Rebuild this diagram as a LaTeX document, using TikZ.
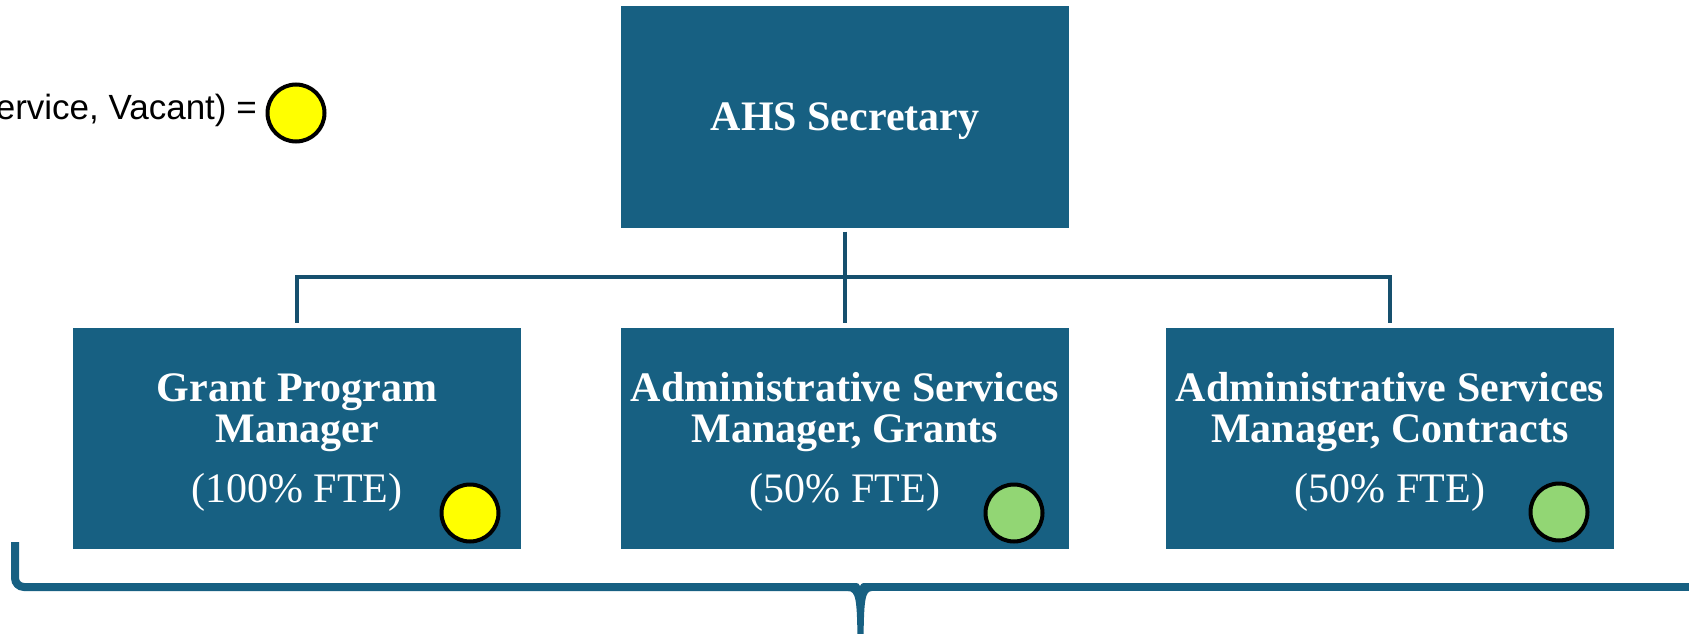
\documentclass[tikz,border=0pt]{standalone}
\usepackage{fontspec}
\setmainfont{Liberation Serif}
\newfontfamily\legendfont{Liberation Sans}
\definecolor{boxblue}{RGB}{23,96,130}
\definecolor{linkblue}{RGB}{22,80,110}
\definecolor{vacant}{RGB}{255,255,0}
\definecolor{filled}{RGB}{146,214,116}
\begin{document}
\begin{tikzpicture}[x=1pt,y=-1pt,
  orgbox/.style={rectangle, fill=boxblue, draw=none, minimum width=448pt, minimum height=221pt, inner sep=0pt},
  titletext/.style={anchor=base, text=white, inner sep=0pt, font=\fontsize{42}{41}\selectfont\bfseries},
  ftetext/.style={anchor=base, text=white, inner sep=0pt, font=\fontsize{42}{41}\selectfont},
  statusdot/.style={circle, draw=black, line width=4pt, minimum size=57pt, inner sep=0pt},
  conn/.style={draw=linkblue, line width=3.5pt},
  bracestroke/.style={draw=boxblue, line width=8pt}
]
\useasboundingbox (0,0) rectangle (1689,634);

% legend
\node[anchor=base east, inner sep=0pt, font=\legendfont\fontsize{35}{35}\selectfont] (legendtext) at (257,119) {ervice, Vacant) =};
\node[statusdot, fill=vacant] (legenddot) at (296,113) {};

% boxes
\node[orgbox] (top) at (845,117) {};
\node[titletext] (toptitle) at (845,130) {AHS Secretary};

\node[orgbox] (c1) at (297,438.5) {};
\node[orgbox] (c2) at (845,438.5) {};
\node[orgbox] (c3) at (1390,438.5) {};

\node[titletext] (c1a) at (297,401) {Grant Program};
\node[titletext] (c1b) at (297,442) {Manager};
\node[ftetext]   (c1c) at (297,502) {(100\% FTE)};

\node[titletext] (c2a) at (845,401) {Administrative Services};
\node[titletext] (c2b) at (845,442) {Manager, Grants};
\node[ftetext]   (c2c) at (845,502) {(50\% FTE)};

\node[titletext] (c3a) at (1390,401) {Administrative Services};
\node[titletext] (c3b) at (1390,442) {Manager, Contracts};
\node[ftetext]   (c3c) at (1390,502) {(50\% FTE)};

% status markers
\node[statusdot, fill=vacant] (d1) at (470,513) {};
\node[statusdot, fill=filled] (d2) at (1014,513) {};
\node[statusdot, fill=filled] (d3) at (1559,512) {};

% reporting lines
\coordinate (bus) at (845,277);
\draw[conn] ([yshift=-4pt]top.south) -- (bus);
\draw[conn] (bus) -| ([yshift=5pt]c1.north);
\draw[conn] (bus) -- ([yshift=5pt]c2.north);
\draw[conn] (bus) -| ([yshift=5pt]c3.north);

% grouping brace
\coordinate (braceleft) at (15,542);
\coordinate (braceright) at (1700,587);
\draw[bracestroke, rounded corners=9pt] (braceleft) -- (15,587) -- (849,587);
\draw[bracestroke] (871,587) -- (braceright);
\fill[boxblue] (848,583) -- (855,583) .. controls (858,583) .. (860,586)
  .. controls (862,583) .. (865,583) -- (872,583) -- (872,591)
  .. controls (865,591) and (864,600) .. (863.5,640) -- (857.5,640)
  .. controls (857,600) and (856,591) .. (848,591) -- cycle;
\end{tikzpicture}
\end{document}
